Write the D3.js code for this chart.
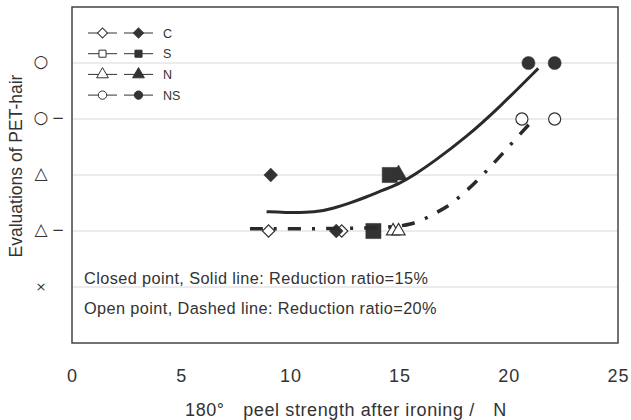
<!DOCTYPE html>
<html><head><meta charset="utf-8">
<script src="https://cdn.jsdelivr.net/npm/d3@7"></script>
<style>body{margin:0;background:#fff}svg{display:block}</style>
</head><body><svg id="c" width="631" height="420"></svg>
<script>
// ---- data ----
const xTicks = [0, 5, 10, 15, 20, 25];
const yLevels = [1, 2, 3, 4, 5];
const yLabels = ["×", "△−", "△", "○−", "○"];
const seriesNames = ["C", "S", "N", "NS"];
// closed points (reduction ratio 15%)
const closedC = [[9.1, 3], [12.1, 2]];
const closedS = [[14.55, 3], [13.8, 2]];
const closedN = [[14.95, 3]];
const closedNS = [[20.9, 5], [22.1, 5]];
// open points (reduction ratio 20%)
const openC = [[9.0, 2], [12.35, 2]];
const openS = [[13.8, 2]];
const openN = [[14.7, 2], [14.95, 2]];
const openNS = [[20.6, 4], [22.1, 4]];
// trend curves
const solidX = [8.91, 9.66, 11.2, 12.0, 12.73, 13.5, 14.24, 15.02, 15.78, 16.5, 18.07, 19.6, 21.35];
const solidY = [2.345, 2.33, 2.33, 2.41, 2.5, 2.61, 2.73, 2.85, 3.03, 3.22, 3.68, 4.22, 4.905];
const dashX = [8.15, 11, 14, 15.6, 16.53, 17.2, 17.9, 18.5, 19.14, 19.7, 20.4, 21.2];
const dashY = [2.04, 2.04, 2.05, 2.1, 2.3, 2.43, 2.66, 2.875, 3.14, 3.375, 3.68, 4.02];
const notes = ["Closed point, Solid line: Reduction ratio=15%", "Open point, Dashed line: Reduction ratio=20%"];

// ---- layout ----
const svg = d3.select("#c");
const L = 72, R = 618, T = 7, B = 343;
const x = d3.scaleLinear().domain([0, 25]).range([L, R]);
const y = d3.scaleLinear().domain([0, 6]).range([B, T]);
const dark = "#333";
const font = "'Liberation Sans', Arial, sans-serif";

// grid
svg.append("g").selectAll("line").data(yLevels).join("line")
  .attr("x1", L).attr("x2", R).attr("y1", d => y(d)).attr("y2", d => y(d))
  .attr("stroke", "#d8d8d8").attr("stroke-width", 1);

// frame
svg.append("rect").attr("x", L).attr("y", T).attr("width", R - L).attr("height", B - T)
  .attr("fill", "none").attr("stroke", "#444").attr("stroke-width", 1.5);

// x axis labels
const xa = svg.append("g").attr("transform", `translate(0,${B})`)
  .call(d3.axisBottom(x).tickValues(xTicks).tickSize(0).tickPadding(26).tickFormat(d3.format("d")));
xa.select(".domain").remove();
xa.selectAll("text").attr("font-family", font).attr("font-size", 18).attr("fill", dark)
  .attr("letter-spacing", 1);

// y axis labels
const ya = svg.append("g").attr("transform", `translate(${L},0)`)
  .call(d3.axisLeft(y).tickValues(yLevels).tickSize(0).tickFormat(""));
ya.select(".domain").remove();
ya.selectAll(".tick text").each(function (d, i) {
  const lab = yLabels[i];
  const t = d3.select(this).attr("x", 0).attr("dy", "0.35em").attr("text-anchor", "middle")
    .attr("font-family", "'DejaVu Sans', sans-serif").attr("fill", dark);
  const base = lab.replace("−", "");
  t.append("tspan").attr("x", -31).attr("font-size", base === "×" ? 13 : 17).text(base);
  if (lab.includes("−")) t.append("tspan").attr("x", -14).attr("font-size", 15).text("−");
});

// titles
svg.append("text").attr("x", 346).attr("y", 416).attr("text-anchor", "middle")
  .attr("font-family", font).attr("font-size", 18).attr("fill", dark).attr("letter-spacing", 0.6)
  .text("180°\u3000peel strength after ironing /\u3000N");
svg.append("text").attr("transform", "translate(22,166) rotate(-90)").attr("text-anchor", "middle")
  .attr("font-family", font).attr("font-size", 17.5).attr("fill", dark)
  .text("Evaluations of PET-hair");

// notes
svg.append("g").selectAll("text").data(notes).join("text")
  .attr("x", 84).attr("y", (d, i) => 284 + i * 30)
  .attr("font-family", font).attr("font-size", 16.3).attr("letter-spacing", 0.4)
  .attr("fill", dark).text(d => d);

// markers
const sym = {
  C: d3.symbol().type(d3.symbolSquare),
  S: d3.symbol().type(d3.symbolSquare),
  N: d3.symbol().type(d3.symbolTriangle),
  NS: d3.symbol().type(d3.symbolCircle)
};
const rot = { C: 45, S: 0, N: 0, NS: 0 };
const sizeClosed = { C: 95, S: 230, N: 130, NS: 135 };
const sizeOpen = { C: 75, S: 150, N: 75, NS: 115 };

function drawPts(pts, name, closed) {
  svg.append("g").selectAll("path").data(pts).join("path")
    .attr("d", sym[name].size(closed ? sizeClosed[name] : sizeOpen[name]))
    .attr("transform", d => `translate(${x(d[0])},${y(d[1])}) rotate(${rot[name]})`)
    .attr("fill", closed ? dark : "#fff").attr("stroke", dark).attr("stroke-width", closed ? 0.5 : 1.2);
}
drawPts(openC, "C", false); drawPts(openS, "S", false); drawPts(openN, "N", false); drawPts(openNS, "NS", false);
drawPts(closedC, "C", true); drawPts(closedS, "S", true); drawPts(closedN, "N", true); drawPts(closedNS, "NS", true);

// curves
const line = d3.line().x(d => x(d[0])).y(d => y(d[1])).curve(d3.curveBasis);
svg.append("path").datum(d3.zip(solidX, solidY)).attr("d", line)
  .attr("fill", "none").attr("stroke", "#2a2a2a").attr("stroke-width", 3);
svg.append("path").datum(d3.zip(dashX, dashY)).attr("d", line)
  .attr("fill", "none").attr("stroke", "#2a2a2a").attr("stroke-width", 3.5)
  .attr("stroke-dasharray", "13,11,3,11");

// legend
const lg = svg.append("g");
seriesNames.forEach((name, i) => {
  const yy = 33 + i * 20.7;
  [[88, 117, false], [124, 153, true]].forEach(([a, b, closed]) => {
    lg.append("line").attr("x1", a).attr("x2", b).attr("y1", yy).attr("y2", yy)
      .attr("stroke", dark).attr("stroke-width", 1);
    lg.append("path").attr("d", sym[name].size(name === "N" ? 60 : name === "NS" ? 55 : 50))
      .attr("transform", `translate(${(a + b) / 2},${yy}) rotate(${rot[name]})`)
      .attr("fill", closed ? dark : "#fff").attr("stroke", dark).attr("stroke-width", 1);
  });
  lg.append("text").attr("x", 163).attr("y", yy + 4.5).attr("font-family", font)
    .attr("font-size", 12.5).attr("fill", dark).text(name);
});
</script></body></html>
